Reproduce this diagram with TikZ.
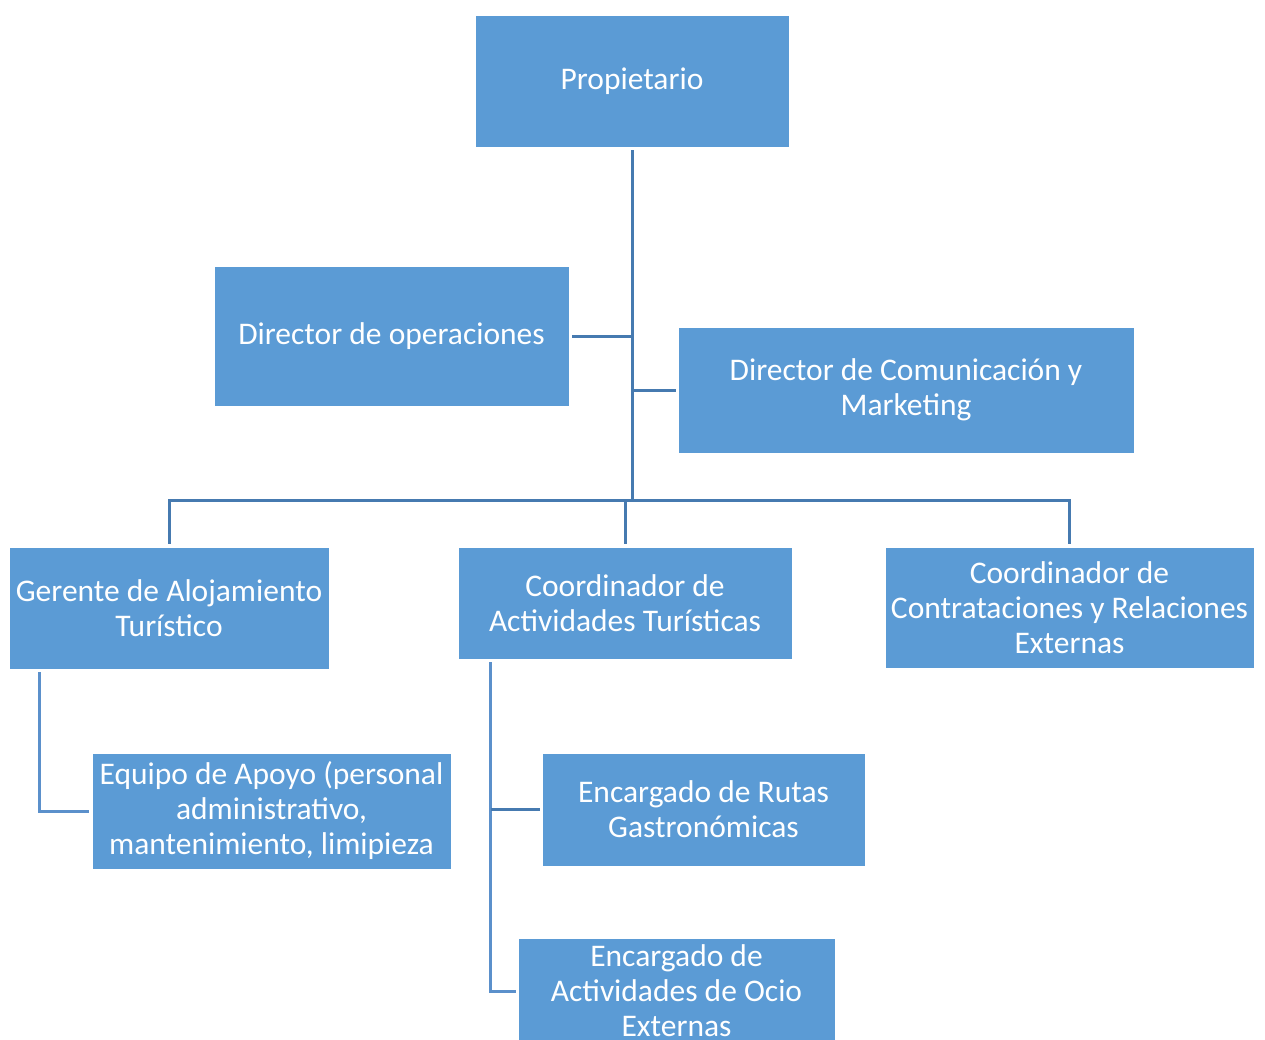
\documentclass[tikz,border=0pt]{standalone}
\usepackage{fontspec}
\setmainfont{Carlito}
\usetikzlibrary{calc}
\definecolor{boxblue}{HTML}{5B9BD5}
\definecolor{linkblue}{HTML}{467AB0}
\definecolor{linklight}{HTML}{5B90CB}
\begin{document}
\begin{tikzpicture}[x=1pt,y=-1pt,
  box/.style={fill=boxblue, draw=white, line width=0.8pt, text=white, align=center,
    inner sep=0pt, font=\fontsize{31.5}{35}\selectfont},
  link/.style={draw=linkblue, line width=3pt},
  sublink/.style={draw=linklight, line width=3pt}]
\useasboundingbox (0,0) rectangle (1265,1039);
\node[box, minimum width=314pt, minimum height=132pt] (prop) at (632,81) {Propietario};
\node[box, minimum width=355pt, minimum height=140pt] (ops) at (391.5,336) {Director de operaciones};
\node[box, minimum width=456pt, minimum height=126pt] (com) at (906,390) {Director de Comunicación y\\Marketing};
\node[box, minimum width=320pt, minimum height=122pt] (ger) at (169,608) {Gerente de Alojamiento\\Turístico};
\node[box, minimum width=334pt, minimum height=112pt] (ca) at (625,603) {Coordinador de\\Actividades Turísticas};
\node[box, minimum width=369pt, minimum height=121pt] (cc) at (1069.5,607.5) {Coordinador de\\Contrataciones y Relaciones\\Externas};
\node[box, minimum width=359pt, minimum height=116pt] (eq) at (271.5,811) {Equipo de Apoyo (personal\\administrativo,\\mantenimiento, limipieza};
\node[box, minimum width=323pt, minimum height=113pt] (ru) at (703.5,809.5) {Encargado de Rutas\\Gastronómicas};
\node[box, minimum width=317pt, minimum height=106pt] (oc) at (676.5,991) {Encargado de\\Actividades de Ocio\\Externas};

\coordinate (bus) at (631,500);
\draw[link] ([yshift=-3pt]prop.south) -- (prop.south |- bus);
\draw[link] ([yshift=3pt]ger.north) -- (ger.north |- bus) -- (cc.north |- bus) -- ([yshift=3pt]cc.north);
\draw[link] (ca.north |- bus) -- ([yshift=3pt]ca.north);
\draw[link] ([xshift=3pt]ops.east) -- (ops.east -| prop.south);
\draw[link] (com.west -| prop.south) -- ([xshift=-2pt]com.west);

\coordinate (gtop) at ($(ger.south west)+(31,3)$);
\draw[sublink] (gtop) |- ([xshift=-3pt]eq.west);
\coordinate (ctop) at ($(ca.south west)+(33,3)$);
\draw[sublink] (ctop) |- ([xshift=-2pt]oc.west);
\draw[link] (ctop |- ru.west) -- ([xshift=-2pt]ru.west);
\end{tikzpicture}
\end{document}
